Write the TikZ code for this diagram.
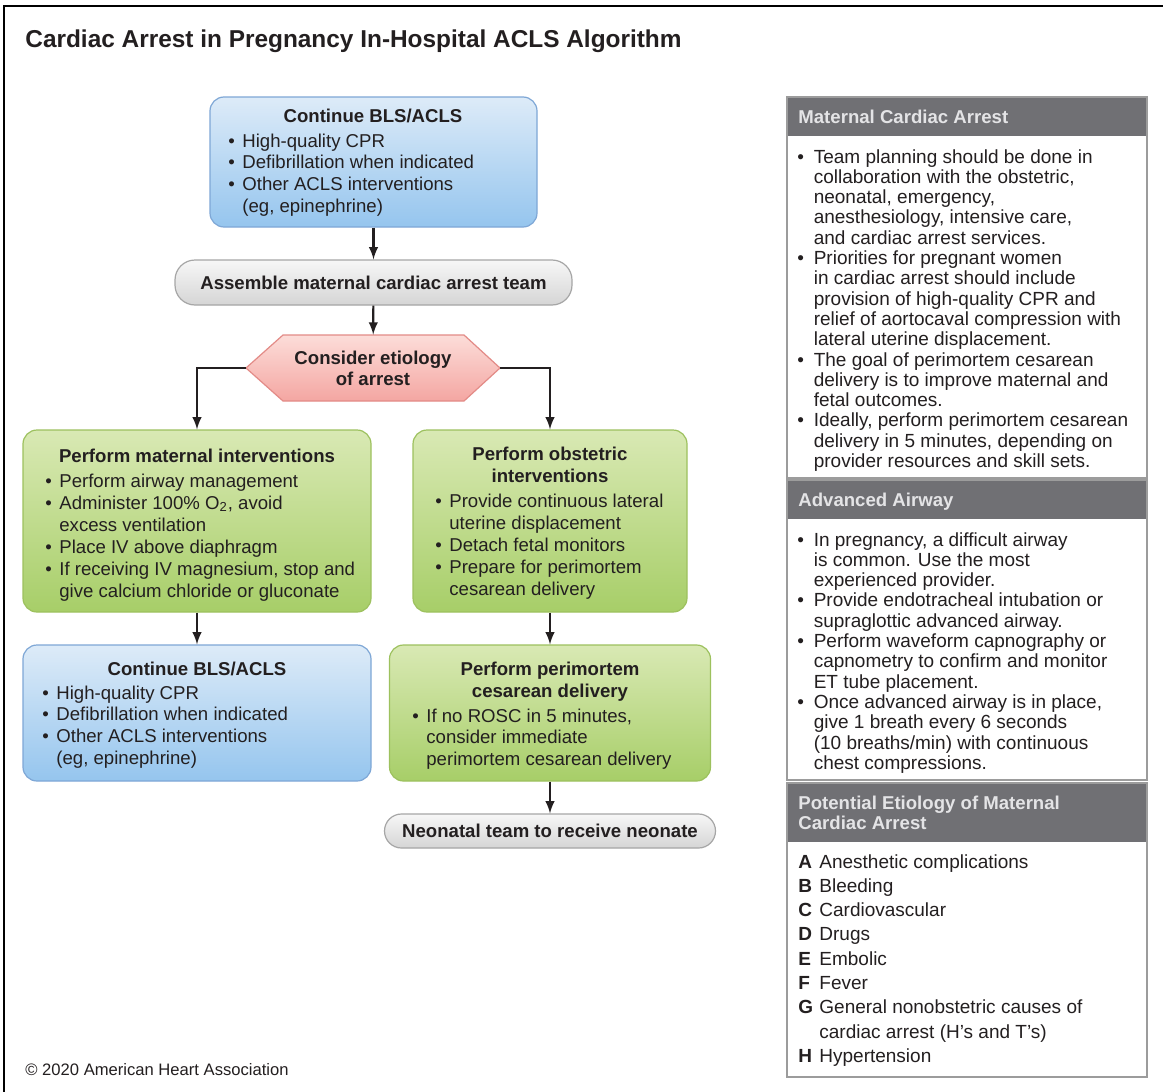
\documentclass[tikz,border=0pt]{standalone}
\usepackage{fontspec}
\setmainfont{Liberation Sans}
\usetikzlibrary{arrows,positioning}

\definecolor{ink}{HTML}{231F20}
\definecolor{bluetop}{HTML}{DDEBF8}
\definecolor{bluebot}{HTML}{95C5EE}
\definecolor{blueedge}{HTML}{7EA7D6}
\definecolor{greentop}{HTML}{D9E9B4}
\definecolor{greenbot}{HTML}{A7CE68}
\definecolor{greenedge}{HTML}{9DC15E}
\definecolor{pinktop}{HTML}{FCDDD9}
\definecolor{pinkbot}{HTML}{F4A6A2}
\definecolor{pinkedge}{HTML}{E38B87}
\definecolor{graytop}{HTML}{F7F7F7}
\definecolor{graybot}{HTML}{D5D5D5}
\definecolor{grayedge}{HTML}{A6A6A6}
\definecolor{hdgray}{HTML}{707074}
\definecolor{hdtext}{HTML}{E4E4E6}
\definecolor{panelline}{HTML}{9C9C9C}

\tikzset{every picture/.style={/utils/exec={\fontsize{9.3}{10.9}\selectfont}}}

\newcommand{\bl}{\textbullet}
\newcommand{\blist}[2][7pt]{\begin{tabular}[t]{@{}p{#1}@{}l@{}}#2\end{tabular}}
\newcommand{\clines}[1]{\begin{tabular}[t]{@{}c@{}}#1\end{tabular}}

\begin{document}
\begin{tikzpicture}[x=0.5pt, y=-0.5pt, color=ink]
  \tikzstyle{box} = [rectangle, rounded corners=7pt, line width=0.6pt, inner sep=0pt]
  \tikzstyle{bluebox} = [box, draw=blueedge, top color=bluetop, bottom color=bluebot]
  \tikzstyle{greenbox} = [box, draw=greenedge, top color=greentop, bottom color=greenbot]
  \tikzstyle{pill} = [rectangle, rounded corners=10pt, line width=0.6pt, draw=grayedge, top color=graytop, bottom color=graybot, font=\bfseries]
  \tikzstyle{head} = [anchor=base, inner sep=0pt, font=\bfseries]
  \tikzstyle{body} = [anchor=base west, inner sep=0pt]
  \tikzstyle{side} = [anchor=base west, inner sep=0pt, font=\fontsize{9.5}{10.15}\selectfont]
  \tikzstyle{sidehead} = [anchor=base west, inner sep=0pt, text=hdtext, font=\fontsize{9.3}{10}\selectfont\bfseries]

  \tikzstyle{arrow} = [-latex, line width=1.1pt, draw=ink]

  \useasboundingbox (0,0) rectangle (1163,1092);
  \fill[white] (0,0) rectangle (1163,1092);
  \draw[line width=1pt, black] (4,1092) -- (4,6) -- (1163,6);

  \node (title) [anchor=base west, inner sep=0pt, font=\fontsize{12.2}{14}\selectfont\bfseries] at (25,47)
    {Cardiac Arrest in Pregnancy In-Hospital ACLS Algorithm};

  % flowchart boxes
  \node (bls1) [bluebox, minimum width=163.5pt, minimum height=65pt] at (373.5,162) {};
  \node (team) [pill, minimum width=198.5pt, minimum height=22.5pt] at (373.5,282.5) {Assemble maternal cardiac arrest team};
  \shadedraw[top color=pinktop, bottom color=pinkbot, draw=pinkedge, line width=0.6pt]
    (246,368) -- (283,335) -- (464,335) -- (500,368) -- (464,401) -- (283,401) -- cycle;
  \node (etio) [minimum width=127pt, minimum height=33pt, inner sep=0pt] at (373,368) {};
  \node (mat) [greenbox, minimum width=174pt, minimum height=91pt] at (197,521) {};
  \node (obs) [greenbox, minimum width=137pt, minimum height=91pt] at (550,521) {};
  \node (bls2) [bluebox, minimum width=174pt, minimum height=68pt] at (197,713) {};
  \node (pmcd) [greenbox, minimum width=160.5pt, minimum height=68pt] at (550,713) {};
  \node (neo) [pill, minimum width=165.5pt, minimum height=17pt, rounded corners=8.5pt] at (550,831) {Neonatal team to receive neonate};

  % box texts
  \node (bls1head) [head] at (373,122) {Continue BLS/ACLS};
  \node (bls1list) [body] at (228,147) {\blist{%
    \bl & High-quality CPR\\
    \bl & Defibrillation when indicated\\
    \bl & Other ACLS interventions\\
        & (eg, epinephrine)}};
  \node (etiohead) [head] at (373,364) {\clines{Consider etiology\\of arrest}};
  \node (mathead) [head] at (197,462) {Perform maternal interventions};
  \node (matlist) [body, font=\fontsize{9.3}{11}\selectfont] at (45,487) {\blist{%
    \bl & Perform airway management\\
    \bl & Administer 100\% O\textsubscript{2}, avoid\\
        & excess ventilation\\
    \bl & Place IV above diaphragm\\
    \bl & If receiving IV magnesium, stop and\\
        & give calcium chloride or gluconate}};
  \node (obshead) [head, font=\fontsize{9.3}{11}\selectfont\bfseries] at (550,460) {\clines{Perform obstetric\\interventions}};
  \node (obslist) [body, font=\fontsize{9.3}{11}\selectfont] at (435,507) {\blist{%
    \bl & Provide continuous lateral\\
        & uterine displacement\\
    \bl & Detach fetal monitors\\
    \bl & Prepare for perimortem\\
        & cesarean delivery}};
  \node (bls2head) [head] at (197,675) {Continue BLS/ACLS};
  \node (bls2list) [body] at (42,699) {\blist{%
    \bl & High-quality CPR\\
    \bl & Defibrillation when indicated\\
    \bl & Other ACLS interventions\\
        & (eg, epinephrine)}};
  \node (pmcdhead) [head, font=\fontsize{9.3}{11}\selectfont\bfseries] at (550,675) {\clines{Perform perimortem\\cesarean delivery}};
  \node (pmcdlist) [body] at (412,722) {\blist{%
    \bl & If no ROSC in 5 minutes,\\
        & consider immediate\\
        & perimortem cesarean delivery}};

  \draw [arrow] (bls1) -- (team);
  \draw [arrow] (team) -- (etio);
  % horizontal then vertical
  \draw [arrow] (etio.west) -| (mat.north);
  \draw [arrow] (etio.east) -| (obs.north);
  \draw [arrow] (mat) -- (bls2);
  \draw [arrow] (obs) -- (pmcd);
  \draw [arrow] (pmcd) -- (neo);

  % side panel
  \fill[hdgray] (787,97) rectangle (1147,136);
  \fill[hdgray] (787,480) rectangle (1147,519);
  \fill[hdgray] (787,783) rectangle (1147,842);
  \draw[panelline, line width=0.8pt] (787,97) rectangle (1147,478);
  \draw[panelline, line width=0.8pt] (787,480) rectangle (1147,780);
  \draw[panelline, line width=0.8pt] (787,783) rectangle (1147,1077);

  \node (hdarrest) [sidehead] at (798,123) {Maternal Cardiac Arrest};
  \node (arrestlist) [side] at (797,163) {\blist[8.2pt]{%
    \bl & Team planning should be done in\\
        & collaboration with the obstetric,\\
        & neonatal, emergency,\\
        & anesthesiology, intensive care,\\
        & and cardiac arrest services.\\
    \bl & Priorities for pregnant women\\
        & in cardiac arrest should include\\
        & provision of high-quality CPR and\\
        & relief of aortocaval compression with\\
        & lateral uterine displacement.\\
    \bl & The goal of perimortem cesarean\\
        & delivery is to improve maternal and\\
        & fetal outcomes.\\
    \bl & Ideally, perform perimortem cesarean\\
        & delivery in 5 minutes, depending on\\
        & provider resources and skill sets.}};
  \node (hdairway) [sidehead] at (798,506) {Advanced Airway};
  \node (airwaylist) [side] at (797,546) {\blist[8.2pt]{%
    \bl & In pregnancy, a difficult airway\\
        & is common. Use the most\\
        & experienced provider.\\
    \bl & Provide endotracheal intubation or\\
        & supraglottic advanced airway.\\
    \bl & Perform waveform capnography or\\
        & capnometry to confirm and monitor\\
        & ET tube placement.\\
    \bl & Once advanced airway is in place,\\
        & give 1 breath every 6 seconds\\
        & (10 breaths/min) with continuous\\
        & chest compressions.}};
  \node (hdcause) [sidehead] at (798,809) {\begin{tabular}[t]{@{}l@{}}Potential Etiology of Maternal\\Cardiac Arrest\end{tabular}};
  \node (causelist) [side, font=\fontsize{9.5}{12.15}\selectfont] at (798,868) {\blist[10.5pt]{%
    \textbf{A} & Anesthetic complications\\
    \textbf{B} & Bleeding\\
    \textbf{C} & Cardiovascular\\
    \textbf{D} & Drugs\\
    \textbf{E} & Embolic\\
    \textbf{F} & Fever\\
    \textbf{G} & General nonobstetric causes of\\
               & cardiac arrest (H's and T's)\\
    \textbf{H} & Hypertension}};

  \node (copy) [anchor=base west, inner sep=0pt, font=\fontsize{8.3}{10}\selectfont] at (25,1075) {© 2020 American Heart Association};
\end{tikzpicture}
\end{document}
